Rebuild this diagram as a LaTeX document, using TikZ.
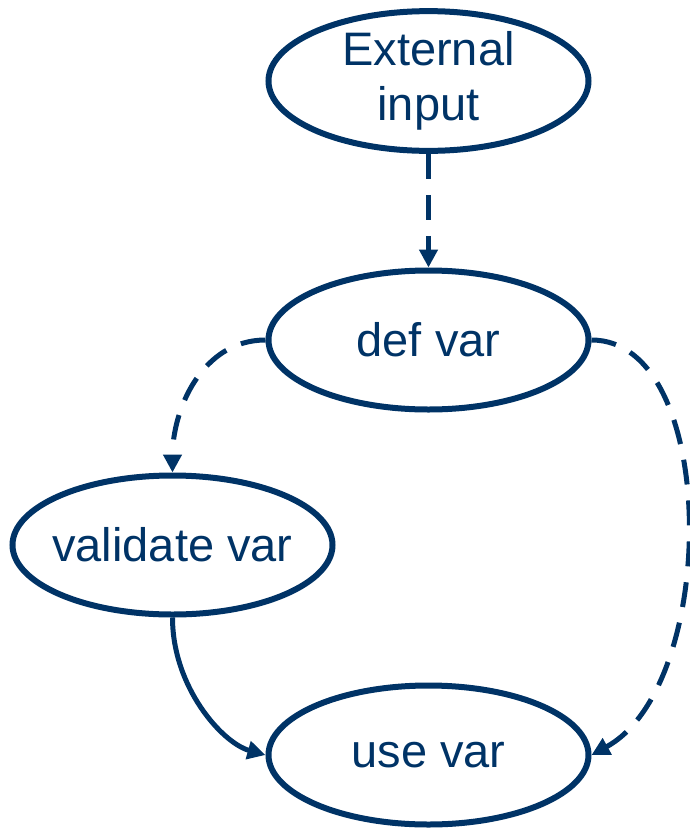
\documentclass[tikz,border=0pt]{standalone}
\usepackage{fontspec}
\setmainfont{Liberation Sans}
\usetikzlibrary{shapes.geometric,arrows.meta}
\definecolor{navy}{RGB}{0,51,102}
\tikzset{
  bubble/.style={ellipse, draw=navy, line width=6pt, minimum width=320pt, minimum height=139pt,
    inner sep=0pt, text=navy, align=center, font=\fontsize{47}{55}\selectfont},
  conn/.style={draw=navy, line width=5pt, -{Triangle[length=18pt,width=18pt]}},
  dashconn/.style={conn, dash pattern=on 25pt off 16pt}
}
\begin{document}
\begin{tikzpicture}[x=1pt,y=1pt]
\useasboundingbox (0,-828) rectangle (690,0);
\node[bubble] (ext) at (428.5,-81) {External\\input};
\node[bubble] (def) at (428.5,-340) {def var};
\node[bubble] (val) at (172.5,-545) {\makebox[200pt][c]{validate var}};
\node[bubble] (use) at (428.5,-755) {use var};
\draw[dashconn] (ext) -- (def);
\draw[dashconn] (def.west) to[out=180,in=90] (val.north);
\draw[dashconn] (def.east) .. controls +(128,0) and +(128,70) .. (use.east);
\draw[conn] (val.south) .. controls +(0,-70) and +(-43,12) .. (use.west);
\end{tikzpicture}
\end{document}
